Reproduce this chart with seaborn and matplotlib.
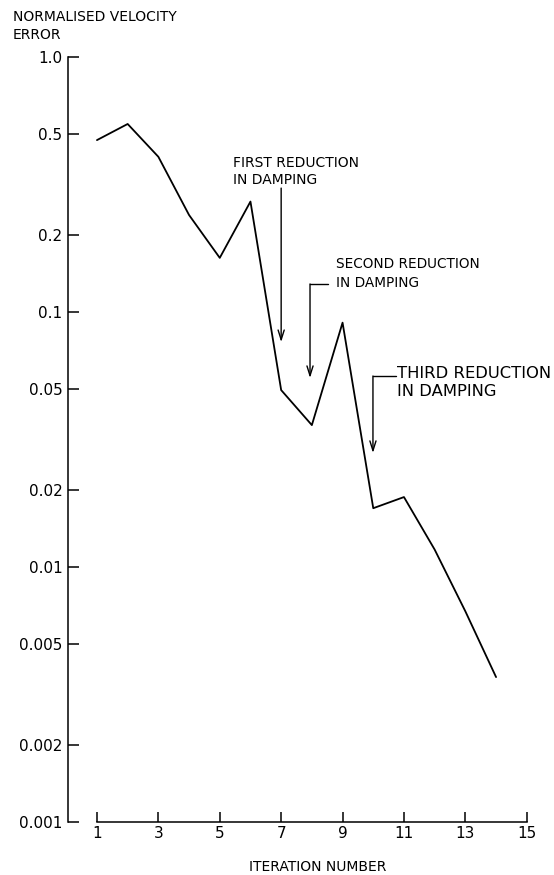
import matplotlib
matplotlib.use('Agg')
import matplotlib.pyplot as plt
import pandas as pd
import seaborn as sns

# valeurs
iterations = [1, 2, 3, 4, 5, 6, 7, 8, 9, 10, 11, 12, 13, 14]
velocity_error = [0.472, 0.546, 0.406, 0.240, 0.163, 0.271, 0.0494, 0.036,
                  0.0908, 0.0170, 0.0188, 0.0117, 0.0067, 0.0037]
y_ticks = [1.0, 0.5, 0.2, 0.1, 0.05, 0.02, 0.01, 0.005, 0.002, 0.001]
y_tick_labels = ['1.0', '0.5', '0.2', '0.1', '0.05', '0.02', '0.01',
                 '0.005', '0.002', '0.001']
x_ticks = [1, 3, 5, 7, 9, 11, 13, 15]


def create_line_plot(data):
    sns.set_style('ticks')
    plt.rcParams['font.family'] = ['DejaVu Sans']
    plt.rcParams['text.color'] = 'black'
    plt.rcParams['axes.labelcolor'] = 'black'

    fig = plt.figure(figsize=(5.54, 8.75), dpi=100)
    ax = fig.add_axes([0.1227, 0.0606, 0.973 - 0.1227, 0.9349 - 0.0606])

    sns.lineplot(data=data, x='iteration', y='error', color='black',
                 linewidth=1.3, ax=ax)

    ax.set_yscale('log')
    ax.set_ylim(0.001, 1.0)
    ax.set_xlim(0.056, 15.4)
    ax.set_yticks(y_ticks)
    ax.set_yticklabels(y_tick_labels)
    ax.yaxis.set_minor_locator(matplotlib.ticker.NullLocator())
    ax.set_xticks(x_ticks)
    ax.set_xticklabels([str(t) for t in x_ticks])

    ax.tick_params(axis='y', direction='in', length=8, width=1.1,
                   labelsize=11, pad=4, colors='black')
    ax.tick_params(axis='x', direction='in', length=7, width=1.1,
                   labelsize=11, pad=3, colors='black')

    for side in ['top', 'right']:
        ax.spines[side].set_visible(False)
    for side in ['left', 'bottom']:
        ax.spines[side].set_linewidth(1.1)
        ax.spines[side].set_color('black')
    ax.spines['bottom'].set_bounds(1, 15)

    ax.set_xlabel('ITERATION NUMBER', fontsize=10)
    ax.xaxis.set_label_coords(0.531, -0.05)
    ax.set_ylabel('')
    fig.text(13 / 554, 1 - 10 / 875, 'NORMALISED VELOCITY\nERROR',
             fontsize=10, ha='left', va='top', linespacing=1.4)

    arrow = dict(arrowstyle='->,head_length=0.7,head_width=0.22',
                 color='black', lw=1.0, shrinkA=0, shrinkB=0)

    # premiere reduction
    ax.text(5.43, 0.41, 'FIRST REDUCTION\nIN DAMPING', fontsize=10,
            ha='left', va='top', linespacing=1.3)
    ax.annotate('', xy=(7.0, 0.0762), xytext=(7.0, 0.306), arrowprops=arrow)

    # deuxieme reduction
    ax.text(8.78, 0.164, 'SECOND REDUCTION\nIN DAMPING', fontsize=9.8,
            ha='left', va='top', linespacing=1.45)
    ax.plot([8.52, 7.94], [0.1288, 0.1288], color='black', lw=1.0)
    ax.annotate('', xy=(7.94, 0.0551), xytext=(7.94, 0.1288), arrowprops=arrow)

    # troisieme reduction
    ax.text(10.78, 0.0615, 'THIRD REDUCTION\nIN DAMPING', fontsize=11.8,
            ha='left', va='top', linespacing=1.3)
    ax.plot([10.74, 9.99], [0.0561, 0.0561], color='black', lw=1.0)
    ax.annotate('', xy=(9.99, 0.028), xytext=(9.99, 0.0561), arrowprops=arrow)

    plt.savefig('out.png', dpi=100)


if __name__ == '__main__':
    data = pd.DataFrame({'iteration': iterations, 'error': velocity_error})
    create_line_plot(data)
